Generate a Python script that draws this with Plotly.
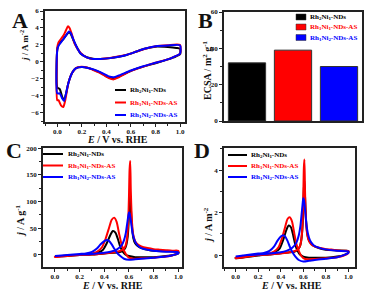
import plotly.graph_objects as go

# ---------------- data ----------------
series_names = ["Rh<sub>2</sub>Ni<sub>1</sub>-NDs",
                "Rh<sub>1</sub>Ni<sub>1</sub>-NDs-AS",
                "Rh<sub>1</sub>Ni<sub>2</sub>-NDs-AS"]
series_colors = ["#000000", "#ff0000", "#0000ff"]

# Panel B: ECSA (m2 g-1)
ecsa_values = [32, 39, 30]

# Panel A: CV, j / A m-2 (anodic sweep then cathodic sweep)
a_black_fE = [0.0, 0.01, 0.03, 0.05, 0.07, 0.095, 0.11, 0.13, 0.15, 0.19, 0.24, 0.29, 0.35, 0.43, 0.5, 0.57, 0.64, 0.71, 0.8, 0.9, 0.97, 1.0]
a_black_fj = [1.5, 2.0, 2.4, 2.7, 3.1, 3.5, 3.3, 2.6, 2.0, 1.0, 0.55, 0.38, 0.36, 0.45, 0.62, 0.85, 1.2, 1.55, 1.8, 1.75, 1.65, 1.55]
a_black_rE = [1.0, 0.95, 0.9, 0.8, 0.7, 0.6, 0.5, 0.46, 0.42, 0.35, 0.3, 0.25, 0.2, 0.15, 0.12, 0.09, 0.07, 0.055, 0.04, 0.02, 0.0]
a_black_rj = [0.9, 0.55, 0.3, -0.15, -0.55, -1.05, -1.75, -1.95, -1.85, -1.25, -0.95, -0.7, -0.6, -0.75, -1.3, -2.5, -3.8, -4.5, -4.1, -3.2, -3.0]

a_red_fE = [0.0, 0.01, 0.03, 0.05, 0.07, 0.087, 0.1, 0.12, 0.14, 0.19, 0.24, 0.29, 0.35, 0.43, 0.5, 0.57, 0.64, 0.71, 0.8, 0.9, 1.0]
a_red_fj = [1.6, 2.3, 2.7, 3.1, 3.7, 4.2, 4.0, 3.2, 2.2, 1.06, 0.54, 0.35, 0.35, 0.46, 0.65, 0.86, 1.2, 1.53, 1.85, 1.97, 2.0]
a_red_rE = [1.0, 0.95, 0.9, 0.8, 0.7, 0.6, 0.5, 0.46, 0.42, 0.35, 0.3, 0.27, 0.22, 0.18, 0.15, 0.12, 0.09, 0.065, 0.049, 0.03, 0.01, 0.0]
a_red_rj = [1.0, 0.6, 0.3, -0.1, -0.55, -1.05, -1.8, -2.05, -1.9, -1.3, -1.0, -0.8, -0.6, -0.6, -0.75, -1.3, -2.5, -4.5, -5.3, -5.1, -4.5, -4.5]

a_blue_fE = [0.0, 0.01, 0.03, 0.05, 0.07, 0.095, 0.11, 0.13, 0.15, 0.19, 0.24, 0.29, 0.35, 0.43, 0.5, 0.57, 0.64, 0.71, 0.8, 0.9, 1.0]
a_blue_fj = [1.4, 1.9, 2.3, 2.7, 3.1, 3.6, 3.4, 2.7, 2.0, 1.0, 0.55, 0.35, 0.35, 0.45, 0.62, 0.85, 1.2, 1.55, 1.85, 1.95, 1.95]
a_blue_rE = [1.0, 0.95, 0.9, 0.8, 0.7, 0.6, 0.5, 0.46, 0.42, 0.35, 0.3, 0.25, 0.2, 0.15, 0.12, 0.09, 0.07, 0.055, 0.04, 0.02, 0.0]
a_blue_rj = [1.0, 0.6, 0.3, -0.1, -0.5, -1.0, -1.6, -1.8, -1.7, -1.2, -0.9, -0.7, -0.6, -0.75, -1.3, -2.5, -3.8, -4.6, -4.3, -3.7, -3.7]

# Panel C: mass activity, j / A g-1
c_black_fE = [0.0, 0.1, 0.2, 0.3, 0.35, 0.39, 0.42, 0.45, 0.47, 0.49, 0.51, 0.53, 0.55, 0.57, 0.6, 0.65, 0.7, 0.8, 0.9, 0.96, 1.0]
c_black_fj = [-3, -2, 0, 2, 5, 10, 22, 38, 45, 42, 30, 15, 6, 1, -2, -4, -4, -4, -2, 0, 3]
c_black_rE = [1.0, 0.9, 0.8, 0.75, 0.7, 0.67, 0.65, 0.635, 0.625, 0.615, 0.61, 0.605, 0.6, 0.595, 0.59, 0.58, 0.57, 0.55, 0.52, 0.48, 0.4, 0.3, 0.2, 0.1, 0.0]
c_black_rj = [6, 7, 8, 10, 13, 17, 22, 32, 52, 90, 112, 100, 75, 50, 35, 20, 13, 8, 5, 4, 3, 1, 0, -1, -3]

c_red_fE = [0.0, 0.05, 0.1, 0.15, 0.2, 0.25, 0.3, 0.34, 0.38, 0.41, 0.44, 0.46, 0.48, 0.5, 0.52, 0.54, 0.56, 0.58, 0.6, 0.64, 0.7, 0.8, 0.9, 0.96, 1.0]
c_red_fj = [-4, -3, -2, -1, 0, 1, 3, 6, 14, 30, 52, 66, 70, 62, 40, 20, 8, 0, -5, -7, -6, -5, -3, 0, 4]
c_red_rE = [1.0, 0.95, 0.9, 0.85, 0.8, 0.75, 0.7, 0.67, 0.65, 0.635, 0.625, 0.615, 0.61, 0.605, 0.6, 0.595, 0.59, 0.58, 0.57, 0.55, 0.52, 0.48, 0.4, 0.3, 0.2, 0.1, 0.0]
c_red_rj = [8, 8, 9, 10, 11, 13, 16, 20, 26, 38, 60, 120, 176, 160, 110, 70, 45, 25, 16, 10, 7, 5, 3, 1, 0, -1, -3]

c_blue_fE = [0.0, 0.1, 0.2, 0.25, 0.3, 0.34, 0.37, 0.4, 0.42, 0.44, 0.46, 0.48, 0.5, 0.53, 0.56, 0.6, 0.65, 0.7, 0.8, 0.9, 0.96, 1.0]
c_blue_fj = [-2, 0, 2, 3, 6, 12, 20, 26, 28, 26, 20, 12, 5, -2, -7, -9, -8, -7, -5, -3, 0, 3]
c_blue_rE = [1.0, 0.9, 0.8, 0.75, 0.7, 0.67, 0.65, 0.63, 0.615, 0.605, 0.6, 0.595, 0.585, 0.575, 0.56, 0.54, 0.5, 0.45, 0.4, 0.3, 0.2, 0.1, 0.0]
c_blue_rj = [5, 6, 8, 10, 13, 18, 25, 40, 65, 78, 80, 74, 58, 42, 28, 18, 10, 6, 4, 2, 1, 0, -2]

# Panel D: specific activity, j / A m-2
d_black_fE = c_black_fE
d_black_fj = [-0.15, -0.09, -0.02, 0.06, 0.16, 0.31, 0.69, 1.19, 1.39, 1.31, 0.94, 0.47, 0.19, 0.03, -0.07, -0.12, -0.12, -0.12, -0.07, 0.0, 0.12]
d_black_rE = c_black_rE
d_black_rj = [0.19, 0.22, 0.25, 0.31, 0.41, 0.53, 0.69, 1.0, 1.63, 2.81, 3.5, 3.13, 2.34, 1.56, 1.09, 0.63, 0.41, 0.25, 0.16, 0.13, 0.09, 0.03, 0.0, -0.05, -0.12]

d_red_fE = c_red_fE
d_red_fj = [-0.15, -0.12, -0.08, -0.04, 0.0, 0.03, 0.08, 0.16, 0.37, 0.78, 1.35, 1.7, 1.78, 1.58, 1.02, 0.5, 0.2, -0.02, -0.14, -0.2, -0.18, -0.15, -0.1, -0.02, 0.1]
d_red_rE = c_red_rE
d_red_rj = [0.2, 0.2, 0.23, 0.26, 0.28, 0.33, 0.41, 0.51, 0.67, 0.97, 1.54, 3.08, 4.5, 4.1, 2.82, 1.79, 1.15, 0.64, 0.41, 0.26, 0.18, 0.13, 0.08, 0.03, 0.0, -0.05, -0.12]

d_blue_fE = c_blue_fE
d_blue_fj = [-0.07, 0.0, 0.07, 0.1, 0.2, 0.4, 0.67, 0.87, 0.93, 0.87, 0.67, 0.4, 0.17, -0.07, -0.23, -0.3, -0.27, -0.23, -0.17, -0.1, 0.0, 0.1]
d_blue_rE = c_blue_rE
d_blue_rj = [0.17, 0.2, 0.27, 0.33, 0.43, 0.6, 0.83, 1.33, 2.17, 2.6, 2.67, 2.47, 1.93, 1.4, 0.93, 0.6, 0.33, 0.2, 0.13, 0.07, 0.03, 0.0, -0.07]

# ---------------- figure ----------------
W, H = 375, 293
FONT = "Liberation Serif"
AXC = "#222222"


def px(x):
    return x / W


def py(y):
    return 1 - y / H


fig = go.Figure()

panels = {
    "A": [(a_black_fE, a_black_fj, a_black_rE, a_black_rj),
          (a_red_fE, a_red_fj, a_red_rE, a_red_rj),
          (a_blue_fE, a_blue_fj, a_blue_rE, a_blue_rj)],
    "C": [(c_black_fE, c_black_fj, c_black_rE, c_black_rj),
          (c_red_fE, c_red_fj, c_red_rE, c_red_rj),
          (c_blue_fE, c_blue_fj, c_blue_rE, c_blue_rj)],
    "D": [(d_black_fE, d_black_fj, d_black_rE, d_black_rj),
          (d_red_fE, d_red_fj, d_red_rE, d_red_rj),
          (d_blue_fE, d_blue_fj, d_blue_rE, d_blue_rj)],
}
axis_ids = {"A": ("x", "y"), "C": ("x3", "y3"), "D": ("x4", "y4")}

for key, curves in panels.items():
    xa, ya = axis_ids[key]
    for i, (fE, fj, rE, rj) in enumerate(curves):
        fig.add_trace(go.Scatter(
            x=list(fE) + list(rE) + list(fE[:1]),
            y=list(fj) + list(rj) + list(fj[:1]),
            mode="lines", xaxis=xa, yaxis=ya, showlegend=False,
            line=dict(color=series_colors[i], width=2, shape="spline", smoothing=0.6),
            name=series_names[i]))

fig.add_trace(go.Bar(
    x=[0, 1, 2], y=ecsa_values, xaxis="x2", yaxis="y2", width=0.81,
    marker=dict(color=series_colors, line=dict(color="#333333", width=1)),
    showlegend=False))

tickfont = dict(family=FONT, size=7, color="#111111", weight="bold")


def axis(domain, rng, dtick, minor, **kw):
    d = dict(domain=domain, range=rng, dtick=dtick, tick0=0, automargin=False,
             showline=True, linecolor=AXC, linewidth=1.5, mirror=True,
             ticks="outside", ticklen=3, tickwidth=1, tickcolor=AXC,
             showgrid=False, zeroline=False, tickfont=tickfont,
             minor=dict(dtick=minor, ticks="outside", ticklen=2, tickcolor=AXC) if minor else None)
    d.update(kw)
    return d


fig.update_layout(
    width=W, height=H, autosize=False,
    margin=dict(l=0, r=0, t=0, b=0),
    paper_bgcolor="white", plot_bgcolor="white",
    font=dict(family=FONT),
    xaxis=axis([px(45), px(185)], [-0.1, 1.04], 0.2, 0.1, anchor="y", tickformat=".1f",
               ticklabelstandoff=-1),
    yaxis=axis([py(122), py(11)], [-7.07, 6], 2, 1, anchor="x"),
    xaxis2=axis([px(224), px(362)], [-0.5, 2.5], 1, None, anchor="y2",
                showticklabels=False, ticks=""),
    yaxis2=axis([py(121), py(12)], [0, 60], 20, 10, anchor="x2"),
    xaxis3=axis([px(43), px(182)], [-0.097, 1.03], 0.2, 0.1, anchor="y3", tickformat=".1f",
                ticklabelstandoff=-1),
    yaxis3=axis([py(267), py(148)], [-22.5, 200.5], 50, 25, anchor="x3"),
    xaxis4=axis([px(224), px(355)], [-0.104, 1.059], 0.2, 0.1, anchor="y4", tickformat=".1f",
                ticklabelstandoff=-1),
    yaxis4=axis([py(267), py(148)], [-0.56, 5.04], 2, 1, anchor="x4"),
)

ann = []
shapes = []


def text(x, y, s, size, angle=0, xanchor="center", color="#111111"):
    ann.append(dict(x=px(x), y=py(y), xref="paper", yref="paper", text=s,
                    showarrow=False, textangle=angle, xanchor=xanchor, yanchor="middle",
                    font=dict(family=FONT, size=size, color=color)))


# panel letters
for letter, (lx, ly) in {"A": (20, 20.5), "B": (205.5, 20.5), "C": (14, 150.5), "D": (202, 150.5)}.items():
    text(lx, ly, "<b>%s</b>" % letter, 22)

# axis titles
xt = "<b><i>E</i> / V vs. RHE</b>"
text(117, 139, xt, 10)
text(112.5, 285.5, xt, 10)
text(291, 285.5, xt, 10)
text(24, 46, "<b><i>j</i> / A m<sup>-2</sup></b>", 9, angle=-90)
text(207, 70, "<b>ECSA / m<sup>2</sup> g<sup>-1</sup></b>", 10, angle=-90)
text(20, 221, "<b><i>j</i> / A g<sup>-1</sup></b>", 10, angle=-90)
text(208, 225, "<b><i>j</i> / A m<sup>-2</sup></b>", 10, angle=-90)

# legends (line keys)
line_legends = [
    (115, 126, 128, [90, 102.5, 115]),   # A
    (43, 63, 66, [154, 165.5, 177]),     # C
    (228, 247, 249, [155, 166, 177]),    # D
]
for x0, x1, xtxt, rows in line_legends:
    for i, ry in enumerate(rows):
        shapes.append(dict(type="line", xref="paper", yref="paper",
                           x0=px(x0), x1=px(x1), y0=py(ry), y1=py(ry),
                           line=dict(color=series_colors[i], width=2)))
        text(xtxt, ry, "<b>%s</b>" % series_names[i], 7, xanchor="left", color=series_colors[i])

# legend B (bar swatches)
for i, ry in enumerate([17, 27, 37.5]):
    shapes.append(dict(type="rect", xref="paper", yref="paper",
                       x0=px(296), x1=px(306), y0=py(ry + 3), y1=py(ry - 3),
                       fillcolor=series_colors[i], line=dict(color="#333333", width=0.5)))
    text(308, ry, "<b>%s</b>" % series_names[i], 7, xanchor="left", color=series_colors[i])

fig.update_layout(annotations=ann, shapes=shapes)

fig.write_html("out.html", config={"displayModeBar": False},
               post_script="document.body.style.margin='0';document.body.style.padding='0';")
